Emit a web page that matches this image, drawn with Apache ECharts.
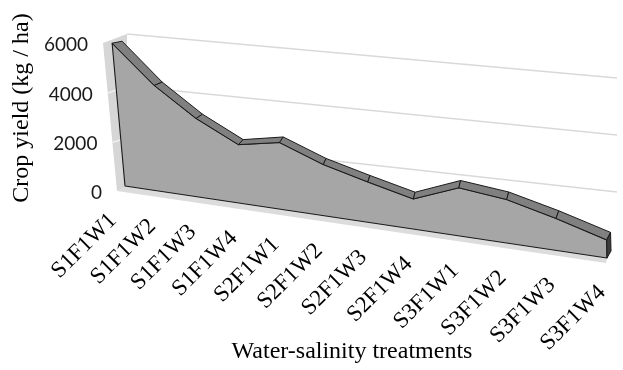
<!DOCTYPE html>
<html><head><meta charset="utf-8">
<script src="https://cdn.jsdelivr.net/npm/echarts@6/dist/echarts.min.js"></script>
<style>html,body{margin:0;padding:0;background:#fff}#c{width:623px;height:370px}</style>
</head><body><div id="c"></div>
<script>
// ---- data ----
const categories = ['S1F1W1','S1F1W2','S1F1W3','S1F1W4','S2F1W1','S2F1W2','S2F1W3','S2F1W4','S3F1W1','S3F1W2','S3F1W3','S3F1W4'];
const yieldValues = [5950, 4400, 3250, 2400, 2700, 2050, 1600, 1180, 1850, 1650, 1200, 670];
const yTicks = [0, 2000, 4000, 6000];
const yTickLabels = ['0', '2000', '4000', '6000'];
const yMax = 6000;
const xTitle = 'Water-salinity treatments';
const yTitle = 'Crop yield (kg / ha)';

// ---- perspective planes: screen quads for unit square corners (0,0),(1,0),(1,1),(0,1) ----
const PLANES = {
  edge:  [[117,191],[606,263],[602,95],[103,43]],
  front: [[125,186],[607,258],[604,92],[112,42]],
  back:  [[134,182],[611,251],[607,81],[122,40]],
  wall:  [[127,190],[617,249],[617,78],[127,34]]
};
function squareToQuad(q){
  const [x0,y0]=q[0],[x1,y1]=q[1],[x2,y2]=q[2],[x3,y3]=q[3];
  const dx1=x1-x2, dx2=x3-x2, dx3=x0-x1+x2-x3;
  const dy1=y1-y2, dy2=y3-y2, dy3=y0-y1+y2-y3;
  const den=dx1*dy2-dx2*dy1;
  const g=(dx3*dy2-dx2*dy3)/den, h=(dx1*dy3-dx3*dy1)/den;
  const a=x1-x0+g*x1, b=x3-x0+h*x3, c=x0;
  const d=y1-y0+g*y1, e=y3-y0+h*y3, f=y0;
  return (u,v)=>{const w=g*u+h*v+1;return [(a*u+b*v+c)/w,(d*u+e*v+f)/w];};
}
const H = {};
for (const k in PLANES) H[k] = squareToQuad(PLANES[k]);

function makeProj(params, api){
  const cs = params.coordSys;
  return function(plane, i, v){
    const p = api.coord([i, v]);
    const s = (p[0]-cs.x)/cs.width;
    const t = (cs.y+cs.height-p[1])/cs.height;
    return H[plane](s, t);
  };
}
const last = categories.length - 1;
const LINE = '#1a1a1a';
const SERIF = '"Liberation Serif", "Times New Roman", serif';

const chart = echarts.init(document.getElementById('c'), null, {renderer:'canvas'});
chart.setOption({
  animation:false,
  grid:{left:50,right:50,top:50,bottom:50,show:false},
  xAxis:{type:'category',data:categories,boundaryGap:false,show:false},
  yAxis:{type:'value',min:0,max:yMax,show:false},
  graphic:[
    {type:'text',x:22,y:108,rotation:Math.PI/2,style:{text:yTitle,font:'24px '+SERIF,fill:'#000',align:'center',verticalAlign:'middle'}},
    {type:'text',x:352,y:352,style:{text:xTitle,font:'24px '+SERIF,fill:'#000',align:'center',verticalAlign:'middle'}}
  ],
  series:[
    { // walls, floor, gridlines
      type:'custom',silent:true,clip:false,z:1,data:[[0]],
      renderItem:function(params,api){
        const P = makeProj(params,api);
        const ch = [];
        yTicks.forEach(tk=>{ if(tk>0){
          const a=P('wall',0,tk), b=P('wall',last,tk);
          ch.push({type:'line',shape:{x1:a[0],y1:a[1],x2:b[0],y2:b[1]},style:{stroke:'#d9d9d9',lineWidth:1.3}});
        }});
        const side=[P('edge',0,0),P('edge',0,yMax),P('wall',0,yMax),P('wall',0,0)];
        ch.push({type:'polygon',shape:{points:side},style:{fill:'#d6d6d6'}});
        yTicks.forEach(tk=>{ if(tk>0 && tk<yMax){
          const a=P('edge',0,tk), b=P('wall',0,tk);
          ch.push({type:'line',shape:{x1:a[0],y1:a[1],x2:b[0],y2:b[1]},style:{stroke:'#f4f4f4',lineWidth:1.3}});
        }});
        const floor=[P('edge',0,0),P('edge',last,0),P('front',last,0),P('front',0,0)];
        ch.push({type:'polygon',shape:{points:floor},style:{fill:'#dcdcdc'}});
        return {type:'group',children:ch};
      }
    },
    { // front face
      type:'custom',silent:true,clip:false,z:2,data:[[0]],
      renderItem:function(params,api){
        const P = makeProj(params,api);
        const pts = yieldValues.map((v,i)=>P('front',i,v));
        pts.push(P('front',last,0)); pts.push(P('front',0,0));
        return {type:'polygon',shape:{points:pts},style:{fill:'#a6a6a6',stroke:LINE,lineWidth:1.1,lineJoin:'round'}};
      }
    },
    { // top faces + end face
      type:'custom',silent:true,clip:false,z:3,
      data:yieldValues.map((v,i)=>[i,v]),
      renderItem:function(params,api){
        const P = makeProj(params,api);
        const i = api.value(0), v = api.value(1);
        if (i < last){
          const v2 = yieldValues[i+1];
          const pts=[P('front',i,v),P('front',i+1,v2),P('back',i+1,v2),P('back',i,v)];
          return {type:'polygon',shape:{points:pts},style:{fill:'#808080',stroke:LINE,lineWidth:1,lineJoin:'round'}};
        }
        const pts=[P('front',i,0),P('front',i,v),P('back',i,v),P('back',i,0)];
        return {type:'polygon',shape:{points:pts},style:{fill:'#3c3c3c',stroke:LINE,lineWidth:1}};
      }
    },
    { // category labels
      type:'custom',silent:true,clip:false,z:5,
      data:categories.map((c,i)=>[i,0]),
      renderItem:function(params,api){
        const P = makeProj(params,api);
        const i = api.value(0);
        const p = P('edge',i,0);
        return {type:'text',x:p[0]-4,y:p[1]+26,rotation:Math.PI/4,
          style:{text:categories[i],font:'23px '+SERIF,fill:'#000',align:'right',verticalAlign:'middle'}};
      }
    },
    { // value labels
      type:'custom',silent:true,clip:false,z:5,
      data:yTicks.map((t,k)=>[0,t]),
      renderItem:function(params,api){
        const P = makeProj(params,api);
        const t = api.value(1);
        const p = P('edge',0,t);
        return {type:'text',x:p[0]-15,y:p[1]+2,
          style:{text:yTickLabels[params.dataIndex],font:'19px Lato, sans-serif',fill:'#1a1a1a',align:'right',verticalAlign:'middle'}};
      }
    }
  ]
});
</script></body></html>
